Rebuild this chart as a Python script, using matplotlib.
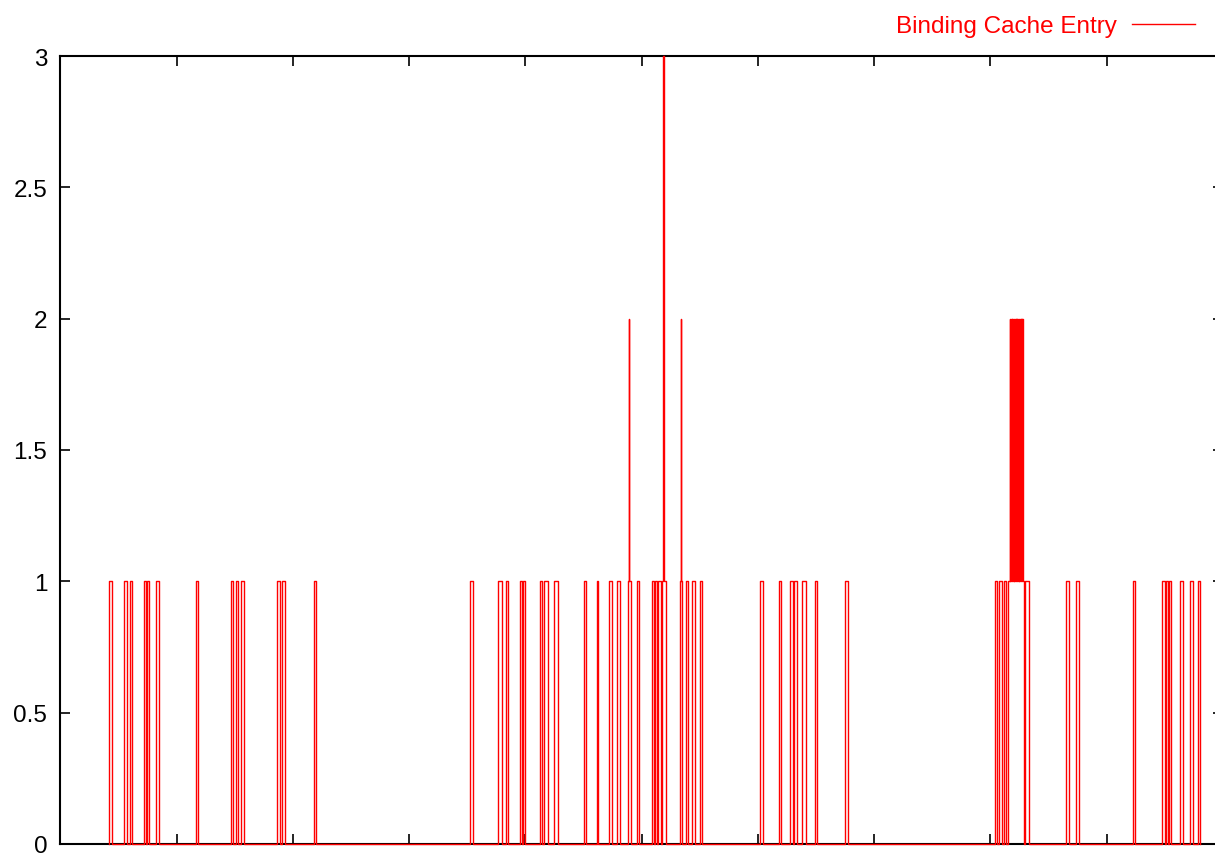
import matplotlib
matplotlib.use("Agg")
import matplotlib.pyplot as plt

plt.rcParams['font.family'] = ['Liberation Sans', 'DejaVu Sans']

# binding cache entries over time: each time is where the level changes
change_time = [
    0.422, 0.422, 0.440, 0.543, 0.569, 0.595, 0.612, 0.716, 0.733, 0.741, 0.759,
    0.819, 0.845, 1.164, 1.181, 1.466, 1.483, 1.509, 1.526, 1.552, 1.578,
    1.862, 1.888, 1.905, 1.931, 2.181, 2.198,
    3.526, 3.552, 3.767, 3.802, 3.836, 3.853, 3.957, 3.974, 3.983, 4.000,
    4.129, 4.147, 4.164, 4.198, 4.250, 4.284, 4.500, 4.517, 4.612, 4.621,
    4.716, 4.741, 4.784, 4.810, 4.879, 4.888, 4.894, 4.905, 4.957, 4.974,
    5.086, 5.103, 5.112, 5.129, 5.138, 5.164, 5.172, 5.187, 5.194, 5.207,
    5.328, 5.336, 5.341, 5.351, 5.379, 5.403, 5.431, 5.455, 5.500, 5.517,
    6.017, 6.040, 6.184, 6.201, 6.276, 6.302, 6.310, 6.336, 6.379, 6.414,
    6.491, 6.509, 6.750, 6.776,
    8.037, 8.058, 8.078, 8.098, 8.115, 8.132, 8.149,
    8.166, 8.172, 8.177, 8.183, 8.188, 8.194, 8.199, 8.205, 8.210, 8.216,
    8.221, 8.227, 8.232, 8.238, 8.243, 8.249, 8.254, 8.260, 8.265, 8.271,
    8.276, 8.282, 8.286, 8.299, 8.333,
    8.649, 8.672, 8.735, 8.764, 9.224, 9.247, 9.472, 9.500,
    9.511, 9.527, 9.535, 9.552, 9.627, 9.661, 9.713, 9.741, 9.787, 9.804,
]
level = [
    0, 1, 0, 1, 0, 1, 0, 1, 0, 1, 0,
    1, 0, 1, 0, 1, 0, 1, 0, 1, 0,
    1, 0, 1, 0, 1, 0,
    1, 0, 1, 0, 1, 0, 1, 0, 1, 0,
    1, 0, 1, 0, 1, 0, 1, 0, 1, 0,
    1, 0, 1, 0, 1, 2, 1, 0, 1, 0,
    1, 0, 1, 0, 1, 0, 1, 3, 1, 0,
    1, 2, 1, 0, 1, 0, 1, 0, 1, 0,
    1, 0, 1, 0, 1, 0, 1, 0, 1, 0,
    1, 0, 1, 0,
    1, 0, 1, 0, 1, 0, 1,
    2, 1, 2, 1, 2, 1, 2, 1, 2, 1,
    2, 1, 2, 1, 2, 1, 2, 1, 2, 1,
    2, 1, 0, 1, 0,
    1, 0, 1, 0, 1, 0, 1, 0,
    1, 0, 1, 0, 1, 0, 1, 0, 1, 0,
]

y_ticks = [0, 0.5, 1, 1.5, 2, 2.5, 3]
y_labels = ["0", "0.5", "1", "1.5", "2", "2.5", "3"]

fig = plt.figure(figsize=(12.15, 8.54), dpi=100)
W, H = 1215, 854
ax = fig.add_axes([60.4 / W, 9 / H, 1162.5 / W, 788 / H])

ax.step(change_time, level, where='post', color='red', lw=1.0,
        zorder=3, clip_on=False, label="Binding Cache Entry")

ax.set_xlim(0, 10)
ax.set_ylim(0, 3)
ax.set_xticks(range(0, 11))
ax.set_yticks(y_ticks)
ax.set_yticklabels(y_labels)
ax.tick_params(direction='in', length=7, width=1.2, top=True, right=True,
               labelbottom=False, labelsize=17.5, pad=9.5, colors='black')
for sp in ax.spines.values():
    sp.set_linewidth(1.5)

ax.legend(loc='center right', bbox_to_anchor=(1195 / W, 1 - 27 / H),
          bbox_transform=fig.transFigure, frameon=False, markerfirst=False,
          handlelength=2.6, handletextpad=0.6, labelcolor='red',
          fontsize=17.5, borderpad=0, borderaxespad=0)

fig.savefig("out.png", dpi=100)
